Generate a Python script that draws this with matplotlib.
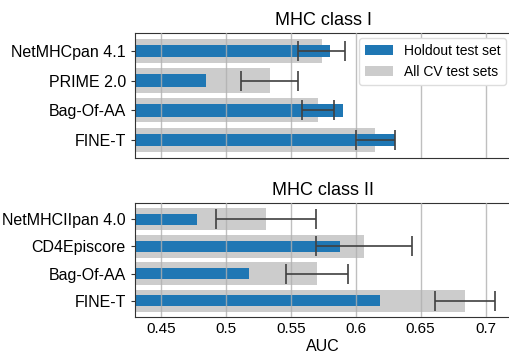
import matplotlib
matplotlib.use("Agg")
import matplotlib.pyplot as plt
import numpy as np

plt.rcParams['font.family'] = ['Liberation Sans', 'DejaVu Sans']

# MHC class I
models_1 = ["NetMHCpan 4.1", "PRIME 2.0", "Bag-Of-AA", "FINE-T"]
holdout_1 = [0.580, 0.485, 0.590, 0.630]
cv_1 = [0.574, 0.534, 0.571, 0.615]
cv_lo_1 = [0.5555, 0.512, 0.559, 0.600]
cv_hi_1 = [0.592, 0.5555, 0.583, 0.630]

# MHC class II
models_2 = ["NetMHCIIpan 4.0", "CD4Episcore", "Bag-Of-AA", "FINE-T"]
holdout_2 = [0.4776, 0.588, 0.518, 0.6185]
cv_2 = [0.531, 0.6065, 0.570, 0.6845]
cv_lo_2 = [0.4925, 0.5695, 0.546, 0.661]
cv_hi_2 = [0.5695, 0.6435, 0.5937, 0.707]

fig = plt.figure(figsize=(5.09, 3.54), dpi=100)
ax1 = fig.add_axes([0.265, 0.554, 0.74, 0.353])
ax2 = fig.add_axes([0.265, 0.1045, 0.74, 0.322])

def draw(ax, models, holdout, cv, lo, hi, title):
    y = np.arange(len(models))
    cv = np.array(cv)
    err = [cv - np.array(lo), np.array(hi) - cv]
    ax.barh(y, cv, height=0.82, color='#cccccc', label='All CV test sets', zorder=1)
    ax.barh(y, holdout, height=0.42, color='#1f77b4', label='Holdout test set', zorder=2)
    ax.errorbar(cv, y, xerr=err, fmt='none', ecolor='#404040', elinewidth=1.2,
                capsize=7, capthick=1.2, zorder=4)
    ax.set_yticks(y)
    ax.set_yticklabels(models, fontsize=11.5)
    ax.invert_yaxis()
    ax.set_xlim(0.43, 0.72)
    ax.set_xticks([0.45, 0.5, 0.55, 0.6, 0.65, 0.7])
    ax.xaxis.grid(True, color='#b0b0b0', lw=1, alpha=0.8, zorder=3)
    ax.set_axisbelow(False)
    ax.tick_params(axis='x', length=0, labelsize=11)
    ax.tick_params(axis='y', length=3, color='#333333')
    for s in ax.spines.values():
        s.set_color('#333333')
    ax.set_title(title, fontsize=13)

draw(ax1, models_1, holdout_1, cv_1, cv_lo_1, cv_hi_1, "MHC class I")
draw(ax2, models_2, holdout_2, cv_2, cv_lo_2, cv_hi_2, "MHC class II")

ax1.set_xticklabels([])
ax2.set_xticklabels(["0.45", "0.5", "0.55", "0.6", "0.65", "0.7"])
ax2.set_xlabel("AUC", fontsize=11.5, labelpad=2)

h, l = ax1.get_legend_handles_labels()
ax1.legend(h[::-1], l[::-1], loc='upper right', fontsize=10, framealpha=1,
           edgecolor='#dddddd', handlelength=2.0, borderaxespad=0.4)

fig.savefig("out.png", dpi=100)
